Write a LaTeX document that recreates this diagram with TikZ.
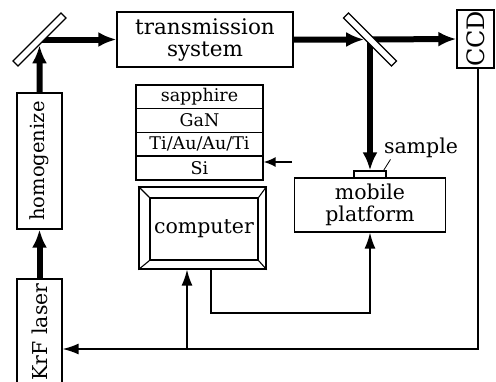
\documentclass[tikz,border=0pt]{standalone}
\usepackage{fontspec}
\usepackage{graphicx}
\setmainfont{DejaVu Serif}
\usetikzlibrary{arrows.meta,backgrounds}
\tikzset{
  box/.style={draw,line width=1.3pt,align=center,inner sep=0pt,font=\fontsize{20.5}{22}\selectfont},
  layer/.style={draw,line width=1.3pt,minimum width=127pt,minimum height=23.75pt,inner sep=0pt,font=\fontsize{17.5}{18}\selectfont},
  mirror/.style={draw,fill=white,line width=1.2pt,minimum width=68pt,minimum height=7pt,inner sep=0pt},
  beam/.style={line width=6pt,-{Latex[length=18pt,width=15pt]}},
  sig/.style={line width=1.4pt,-{Latex[length=16pt,width=11pt]}},
}
\begin{document}
\begin{tikzpicture}[x=1pt,y=-1pt]
\clip (0,0) rectangle (496,381);
% optical part
    \node[box,minimum width=45pt,minimum height=106pt] (laser) at (39.5,332) {\rotatebox{90}{KrF laser}};
    \node[box,minimum width=45pt,minimum height=136pt,font=\fontsize{19.5}{21}\selectfont] (homog) at (39.5,161) {\rotatebox{90}{homogenize}};
    \node[box,minimum width=176pt,minimum height=55pt,font=\fontsize{21.5}{22}\selectfont] (trans) at (205,39.5) {transmission\\system};
    \node[box,minimum width=37pt,minimum height=58pt,font=\fontsize{24}{24}\selectfont] (ccd) at (475.5,39) {\rotatebox{90}{CCD}};
    \node[mirror,rotate=45] (m1) at (39.5,39.5) {};
    \node[mirror,rotate=-45] (m2) at (370,39.5) {};
    \node[box,minimum width=151pt,minimum height=54pt] (platform) at (370,205) {mobile\\platform};
    \node[draw,line width=1.2pt,minimum width=32pt,minimum height=7pt,inner sep=0pt] (sample) at (370,174.5) {};
    \node[font=\fontsize{20.5}{22}\selectfont] (samplelbl) at (421,148) {sample};
    \draw[line width=0.8pt] ([xshift=-3pt]sample.north east) -- ([xshift=10pt,yshift=2pt]samplelbl.south west);
\begin{pgfonlayer}{background}
    \draw[beam] (laser.north) -- (homog.south);
    \draw[beam] (homog.north) -- (m1);
    \draw[beam] (m1.center) -- (trans.west);
    \draw[beam] (trans.east) -- (m2);
    \draw[beam] (m2.center) -- (ccd.west);
    \draw[beam] (m2.center) -- (sample.north);
\end{pgfonlayer}
% layer stack
    \foreach \lbl [count=\i] in {sapphire,GaN,{Ti/Au/Au/Ti},Si}
      {\node[layer] (layer\i) at (199.5,{73+23.75*\i}) {\lbl};}
    \coordinate (sitip) at (292,162);
    \draw[line width=1.6pt,-{Latex[length=12pt,width=10pt]}] (sitip) -- (sitip -| layer4.east);
% computer
    \node[draw,line width=1.3pt,minimum width=127pt,minimum height=82pt] (comp) at (202.5,228) {};
    \node[box,minimum width=108pt,minimum height=62pt] (screen) at (204,229) {computer};
    \foreach \c in {north west,north east,south west,south east}
      {\draw[line width=1.1pt] (comp.\c) -- (screen.\c);}
% control lines
    \coordinate (bus) at (478,349);
    \draw[sig] (ccd.south -| bus) -- (bus) -- (bus -| laser.east);
    \coordinate (tap) at (187,349);
    \draw[sig] (tap) -- (tap |- comp.south);
    \coordinate (turn) at (211,313);
    \draw[sig] (comp.south -| turn) -- (turn) -| (platform.south);
\end{tikzpicture}
\end{document}
